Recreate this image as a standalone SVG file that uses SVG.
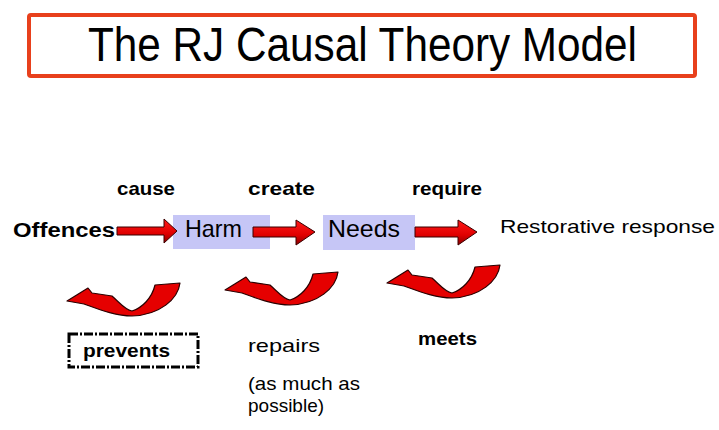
<svg xmlns="http://www.w3.org/2000/svg" width="719" height="430" viewBox="0 0 719 430">
<style>
  .t { font-family: "Liberation Sans", Arial, sans-serif; fill: #000; }
  .b { font-weight: bold; }
  .box { fill: #c6c6f6; }
  .arr { fill: url(#redg); stroke: #3a0000; stroke-width: 1; }
  .curve { fill: #e50000; stroke: #2a0000; stroke-width: 1.2; stroke-linejoin: round; }
</style>
<defs>
  <linearGradient id="redg" x1="0" y1="0" x2="0" y2="1">
    <stop offset="0" stop-color="#ff1a1a"/>
    <stop offset="0.6" stop-color="#e00000"/>
    <stop offset="1" stop-color="#8a0000"/>
  </linearGradient>
  <path id="swoosh" d="M387,283 L408,270 L412,275 L432,278 C440,285 445,292 452,293 C462,290 472,280 475,267 L500,265 C498,281 480,297 452,298 C435,298 418,291 404,286 Z"/>
</defs>
<rect width="719" height="430" fill="#fff"/>

<g id="title">
  <rect x="29" y="15" width="666" height="61" fill="#fff" stroke="#e8401c" stroke-width="4" rx="2"/>
  <text class="t" x="88" y="61" font-size="48" textLength="549" lengthAdjust="spacingAndGlyphs">The RJ Causal Theory Model</text>
</g>

<g id="offences">
  <text class="t b" x="13" y="237" font-size="20" textLength="102" lengthAdjust="spacingAndGlyphs">Offences</text>
</g>
<g id="harm">
  <rect class="box" x="173" y="215" width="97" height="34"/>
  <text class="t" x="185" y="237" font-size="24" fill="#000030" textLength="57" lengthAdjust="spacingAndGlyphs">Harm</text>
</g>
<g id="needs">
  <rect class="box" x="323" y="215" width="92" height="35"/>
  <text class="t" x="328" y="237" font-size="24" fill="#000030" textLength="72" lengthAdjust="spacingAndGlyphs">Needs</text>
</g>
<g id="restorative">
  <text class="t" x="500" y="233" font-size="19" textLength="215" lengthAdjust="spacingAndGlyphs">Restorative response</text>
</g>
<g id="prevents">
  <rect x="69" y="334" width="129" height="33" fill="none" stroke="#000" stroke-width="3" stroke-dasharray="9,2,2,2"/>
  <text class="t b" x="83" y="357" font-size="18" textLength="87" lengthAdjust="spacingAndGlyphs">prevents</text>
</g>

<g id="connectors">
  <path class="arr" d="M117,227 H164 V219 L177,231 L164,243 V235 H117 Z"/>
  <path class="arr" d="M253,227 H296 V220 L315,232 L296,245 V237 H253 Z"/>
  <path class="arr" d="M415,227 H458 V220 L477,232 L458,245 V237 H415 Z"/>
  <use href="#swoosh" class="curve" transform="translate(-320,18)"/>
  <use href="#swoosh" class="curve" transform="translate(-162,7)"/>
  <use href="#swoosh" class="curve"/>
</g>

<g id="labels">
  <text class="t b" x="117" y="195" font-size="19" textLength="58" lengthAdjust="spacingAndGlyphs">cause</text>
  <text class="t b" x="248" y="195" font-size="19" textLength="67" lengthAdjust="spacingAndGlyphs">create</text>
  <text class="t b" x="412" y="195" font-size="19" textLength="70" lengthAdjust="spacingAndGlyphs">require</text>
  <text class="t b" x="418" y="345" font-size="18" textLength="59" lengthAdjust="spacingAndGlyphs">meets</text>
  <text class="t" x="248" y="352" font-size="19" textLength="72" lengthAdjust="spacingAndGlyphs">repairs</text>
  <text class="t" x="248" y="390" font-size="19" textLength="112" lengthAdjust="spacingAndGlyphs">(as much as</text>
  <text class="t" x="248" y="412" font-size="19">possible)</text>
</g>
</svg>
